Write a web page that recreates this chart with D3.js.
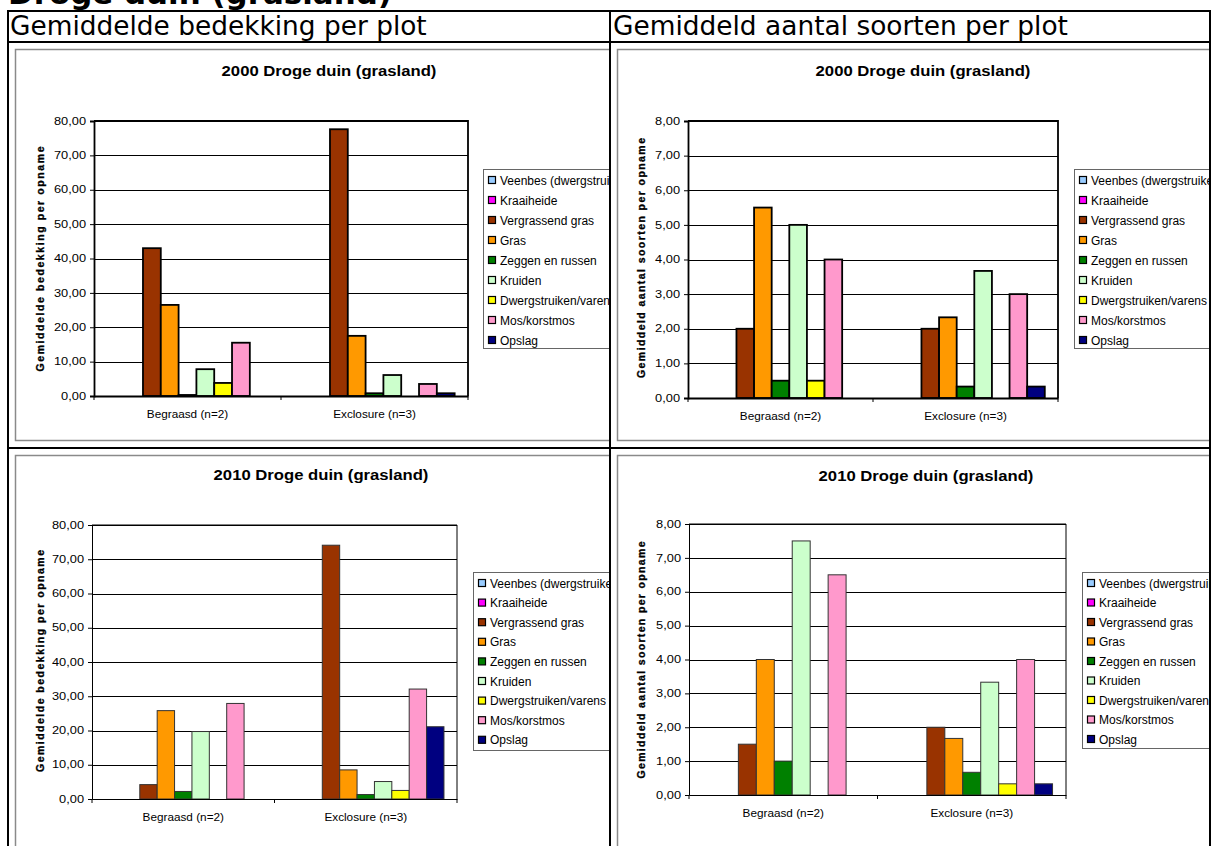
<!DOCTYPE html>
<html>
<head>
<meta charset="utf-8">
<script src="https://cdn.jsdelivr.net/npm/d3@7"></script>
<style>
  body { margin: 0; background: #fff; }
  svg { display: block; }
</style>
</head>
<body>
<svg id="sheet" width="1216" height="846"></svg>
<script>
// ---- data -------------------------------------------------------------
const categories = ["Begraasd (n=2)", "Exclosure (n=3)"];
const seriesNames = [
  "Veenbes (dwergstruiken)", "Kraaiheide", "Vergrassend gras", "Gras",
  "Zeggen en russen", "Kruiden", "Dwergstruiken/varens", "Mos/korstmos", "Opslag"
];
const seriesColors = [
  "#99CCFF", "#FF00FF", "#993300", "#FF9900",
  "#008000", "#CCFFCC", "#FFFF00", "#FF99CC", "#000080"
];

// mean cover per plot (%), series order as above
const cover2000Begraasd  = [0, 0, 43.0, 26.5, 0.3, 7.8, 3.8, 15.5, 0];
const cover2000Exclosure = [0, 0, 77.6, 17.5, 0.8, 6.1, 0, 3.5, 0.8];
const cover2010Begraasd  = [0, 0, 4.2, 25.8, 2.2, 19.7, 0, 27.9, 0];
const cover2010Exclosure = [0, 0, 74.1, 8.5, 1.3, 5.1, 2.5, 32.1, 21.1];

// mean number of species per plot
const species2000Begraasd  = [0, 0, 2.0, 5.5, 0.5, 5.0, 0.5, 4.0, 0];
const species2000Exclosure = [0, 0, 2.0, 2.33, 0.33, 3.67, 0, 3.0, 0.33];
const species2010Begraasd  = [0, 0, 1.5, 4.0, 1.0, 7.5, 0, 6.5, 0];
const species2010Exclosure = [0, 0, 2.0, 1.67, 0.67, 3.33, 0.33, 4.0, 0.33];

const coverTicks   = [0, 10, 20, 30, 40, 50, 60, 70, 80];
const speciesTicks = [0, 1, 2, 3, 4, 5, 6, 7, 8];

const pageTitle = "Droge duin (grasland)";
const columnHeaders = ["Gemiddelde bedekking per plot", "Gemiddeld aantal soorten per plot"];
const chartTitles = ["2000 Droge duin (grasland)", "2000 Droge duin (grasland)",
                     "2010 Droge duin (grasland)", "2010 Droge duin (grasland)"];
const yTitles = ["Gemiddelde bedekking per opname", "Gemiddeld aantal soorten per opname"];

// ---- helpers ----------------------------------------------------------
const svg = d3.select("#sheet");
const nl = d3.formatLocale({decimal: ",", thousands: ".", grouping: [3], currency: ["", ""]});
const fmt = nl.format(".2f");
const XL = "'Liberation Sans', Arial, sans-serif";
const VD = "'DejaVu Sans', Verdana, sans-serif";

// stretch a text element horizontally to a given length
function stretchTo(sel, len, mode) {
  sel.attr("textLength", len).attr("lengthAdjust", mode || "spacingAndGlyphs");
}
function stretchBy(sel, f) {
  sel.each(function () {
    const w = this.getComputedTextLength();
    d3.select(this).attr("textLength", w * f).attr("lengthAdjust", "spacingAndGlyphs");
  });
}
function fitFont(sel, target) {
  sel.each(function () {
    const fs = parseFloat(d3.select(this).attr("font-size"));
    const w = this.getComputedTextLength();
    d3.select(this).attr("font-size", fs * target / w);
  });
}

svg.append("rect").attr("width", 1216).attr("height", 846).attr("fill", "#fff");

// ---- page header & table grid -----------------------------------------
svg.append("text").attr("x", 8).attr("y", 4)
  .attr("font-family", VD).attr("font-weight", "bold").attr("font-size", 24)
  .text(pageTitle).call(fitFont, 384);

svg.append("text").attr("x", 10).attr("y", 35)
  .attr("font-family", VD).attr("font-size", 24)
  .text(columnHeaders[0]).call(fitFont, 417);
svg.append("text").attr("x", 613).attr("y", 35)
  .attr("font-family", VD).attr("font-size", 24)
  .text(columnHeaders[1]).call(fitFont, 455);

const cells = [
  {x: 9,   y: 43,  w: 600, h: 404},
  {x: 611, y: 43,  w: 598, h: 404},
  {x: 9,   y: 449, w: 600, h: 397},
  {x: 611, y: 449, w: 598, h: 397}
];
const defs = svg.append("defs");
cells.forEach((c, i) => {
  defs.append("clipPath").attr("id", "cell" + i)
    .append("rect").attr("x", c.x).attr("y", c.y).attr("width", c.w).attr("height", c.h);
});

// ---- chart panels -----------------------------------------------------
const panels = [
  { cell: 0, title: chartTitles[0], yTitle: yTitles[0], ticks: coverTicks,
    values: [cover2000Begraasd, cover2000Exclosure],
    frame: {x: 15, y: 49, h: 391}, plot: {l: 94, r: 468, t: 121, b: 396},
    titlePos: [329, 76], yTitlePos: [40, 259, 225],
    legend: {x: 483, y: 169, h: 179, first: 180, step: 20},
    heavy: true },
  { cell: 1, title: chartTitles[1], yTitle: yTitles[1], ticks: speciesTicks,
    values: [species2000Begraasd, species2000Exclosure],
    frame: {x: 617, y: 49, h: 391}, plot: {l: 688, r: 1058, t: 121, b: 398},
    titlePos: [923, 76], yTitlePos: [641, 258, 240],
    legend: {x: 1074, y: 169, h: 179, first: 180, step: 20},
    heavy: true },
  { cell: 2, title: chartTitles[2], yTitle: yTitles[0], ticks: coverTicks,
    values: [cover2010Begraasd, cover2010Exclosure],
    frame: {x: 15, y: 455, h: 420}, plot: {l: 92, r: 457, t: 525, b: 799},
    titlePos: [321, 480], yTitlePos: [40, 661, 222],
    legend: {x: 473, y: 572, h: 178, first: 583, step: 19.6},
    heavy: false },
  { cell: 3, title: chartTitles[3], yTitle: yTitles[1], ticks: speciesTicks,
    values: [species2010Begraasd, species2010Exclosure],
    frame: {x: 617, y: 455, h: 420}, plot: {l: 689, r: 1066, t: 524, b: 795},
    titlePos: [926, 481], yTitlePos: [641.5, 660, 237],
    legend: {x: 1082, y: 572, h: 176, first: 583, step: 19.5},
    heavy: false }
];

function drawPanel(p) {
  const g = svg.append("g").attr("clip-path", `url(#cell${p.cell})`);
  const P = p.plot;
  const lineW = p.heavy ? 1.8 : 1;
  const barStroke = p.heavy ? "#000" : "#333";

  // chart area frame
  g.append("rect")
    .attr("x", p.frame.x + 0.5).attr("y", p.frame.y + 0.5)
    .attr("width", 700).attr("height", p.frame.h)
    .attr("fill", "#fff").attr("stroke", "#8a8a8a").attr("stroke-width", 1.5);

  // title
  g.append("text").attr("x", p.titlePos[0]).attr("y", p.titlePos[1])
    .attr("text-anchor", "middle").attr("font-family", XL)
    .attr("font-weight", "bold").attr("font-size", 14)
    .text(p.title).call(stretchBy, 1.19);

  const yMax = p.ticks[p.ticks.length - 1];
  const y = d3.scaleLinear().domain([0, yMax]).range([P.b, P.t]);
  const x0 = d3.scaleBand().domain(categories).range([P.l, P.r]);
  const x1 = d3.scaleBand().domain(seriesNames).range([0, x0.bandwidth()])
    .paddingInner(0).paddingOuter(0.75);

  // horizontal gridlines
  g.append("g").selectAll("line").data(p.ticks.filter(v => v > 0)).join("line")
    .attr("x1", P.l).attr("x2", P.r)
    .attr("y1", d => Math.round(y(d)) + 0.5).attr("y2", d => Math.round(y(d)) + 0.5)
    .attr("stroke", "#000").attr("stroke-width", 1);

  // plot area top/right border
  g.append("path")
    .attr("d", `M${P.l},${y(yMax)}H${P.r}V${P.b}`)
    .attr("fill", "none").attr("stroke", "#000").attr("stroke-width", lineW);

  // bars
  categories.forEach((cat, ci) => {
    const vals = p.values[ci];
    g.append("g").selectAll("rect")
      .data(seriesNames.map((s, si) => ({s, v: vals[si], c: seriesColors[si]})).filter(d => d.v > 0))
      .join("rect")
      .attr("x", d => x0(cat) + x1(d.s))
      .attr("y", d => y(d.v))
      .attr("width", x1.bandwidth())
      .attr("height", d => y(0) - y(d.v))
      .attr("fill", d => d.c)
      .attr("stroke", barStroke).attr("stroke-width", lineW);
  });

  // value axis
  const yAxis = g.append("g").attr("transform", `translate(${P.l},0)`)
    .call(d3.axisLeft(y).tickValues(p.ticks).tickFormat(fmt).tickSize(4).tickPadding(4));
  yAxis.select(".domain").attr("stroke", "#000").attr("stroke-width", lineW);
  yAxis.selectAll(".tick line").attr("stroke", "#000");
  yAxis.selectAll(".tick text").attr("font-family", XL).attr("font-size", 10)
    .attr("fill", "#000").call(stretchBy, 1.28);

  // category axis
  const xAxis = g.append("g").attr("transform", `translate(0,${P.b})`)
    .call(d3.axisBottom(x0).tickSize(0).tickPadding(15));
  xAxis.select(".domain").attr("stroke", "#000").attr("stroke-width", lineW);
  xAxis.selectAll(".tick text").attr("font-family", XL).attr("font-size", 10.5)
    .attr("fill", "#000").call(stretchBy, 1.12);
  const bounds = categories.map(c => x0(c)).concat([x0.range()[1]]);
  g.append("g").selectAll("line").data(bounds).join("line")
    .attr("x1", d => d).attr("x2", d => d).attr("y1", P.b).attr("y2", P.b + 4)
    .attr("stroke", "#000").attr("stroke-width", 1);

  // value axis title
  g.append("text")
    .attr("transform", `translate(${p.yTitlePos[0]},${p.yTitlePos[1]}) rotate(-90)`)
    .attr("text-anchor", "middle").attr("dy", "0.36em")
    .attr("font-family", XL).attr("font-weight", "900").attr("font-size", 10.5)
    .attr("stroke", "#000").attr("stroke-width", 0.3)
    .text(p.yTitle).call(stretchTo, p.yTitlePos[2], "spacing");

  // legend
  const L = p.legend;
  g.append("rect").attr("x", L.x + 0.5).attr("y", L.y + 0.5)
    .attr("width", 160).attr("height", L.h)
    .attr("fill", "#fff").attr("stroke", "#666").attr("stroke-width", 1);
  const items = g.append("g").selectAll("g").data(seriesNames).join("g")
    .attr("transform", (d, i) => `translate(${L.x + 5},${L.first + i * L.step})`);
  items.append("rect").attr("x", 0.5).attr("y", -3.5).attr("width", 7).attr("height", 7)
    .attr("fill", (d, i) => seriesColors[i]).attr("stroke", "#000").attr("stroke-width", 1.2);
  items.append("text").attr("x", 12).attr("y", 4.5)
    .attr("font-family", XL).attr("font-size", 12).attr("fill", "#000")
    .text(d => d);
}
panels.forEach(drawPanel);

// table rules drawn last so they sit over the clipped charts
const rules = svg.append("g").attr("stroke", "#000").attr("stroke-width", 2);
[[7, 11, 1211, 11], [7, 42, 1211, 42], [7, 448, 1211, 448],
 [8, 10, 8, 846], [610, 10, 610, 846], [1210, 10, 1210, 846]]
  .forEach(([a, b, c, d]) => rules.append("line").attr("x1", a).attr("y1", b).attr("x2", c).attr("y2", d));
</script>
</body>
</html>
